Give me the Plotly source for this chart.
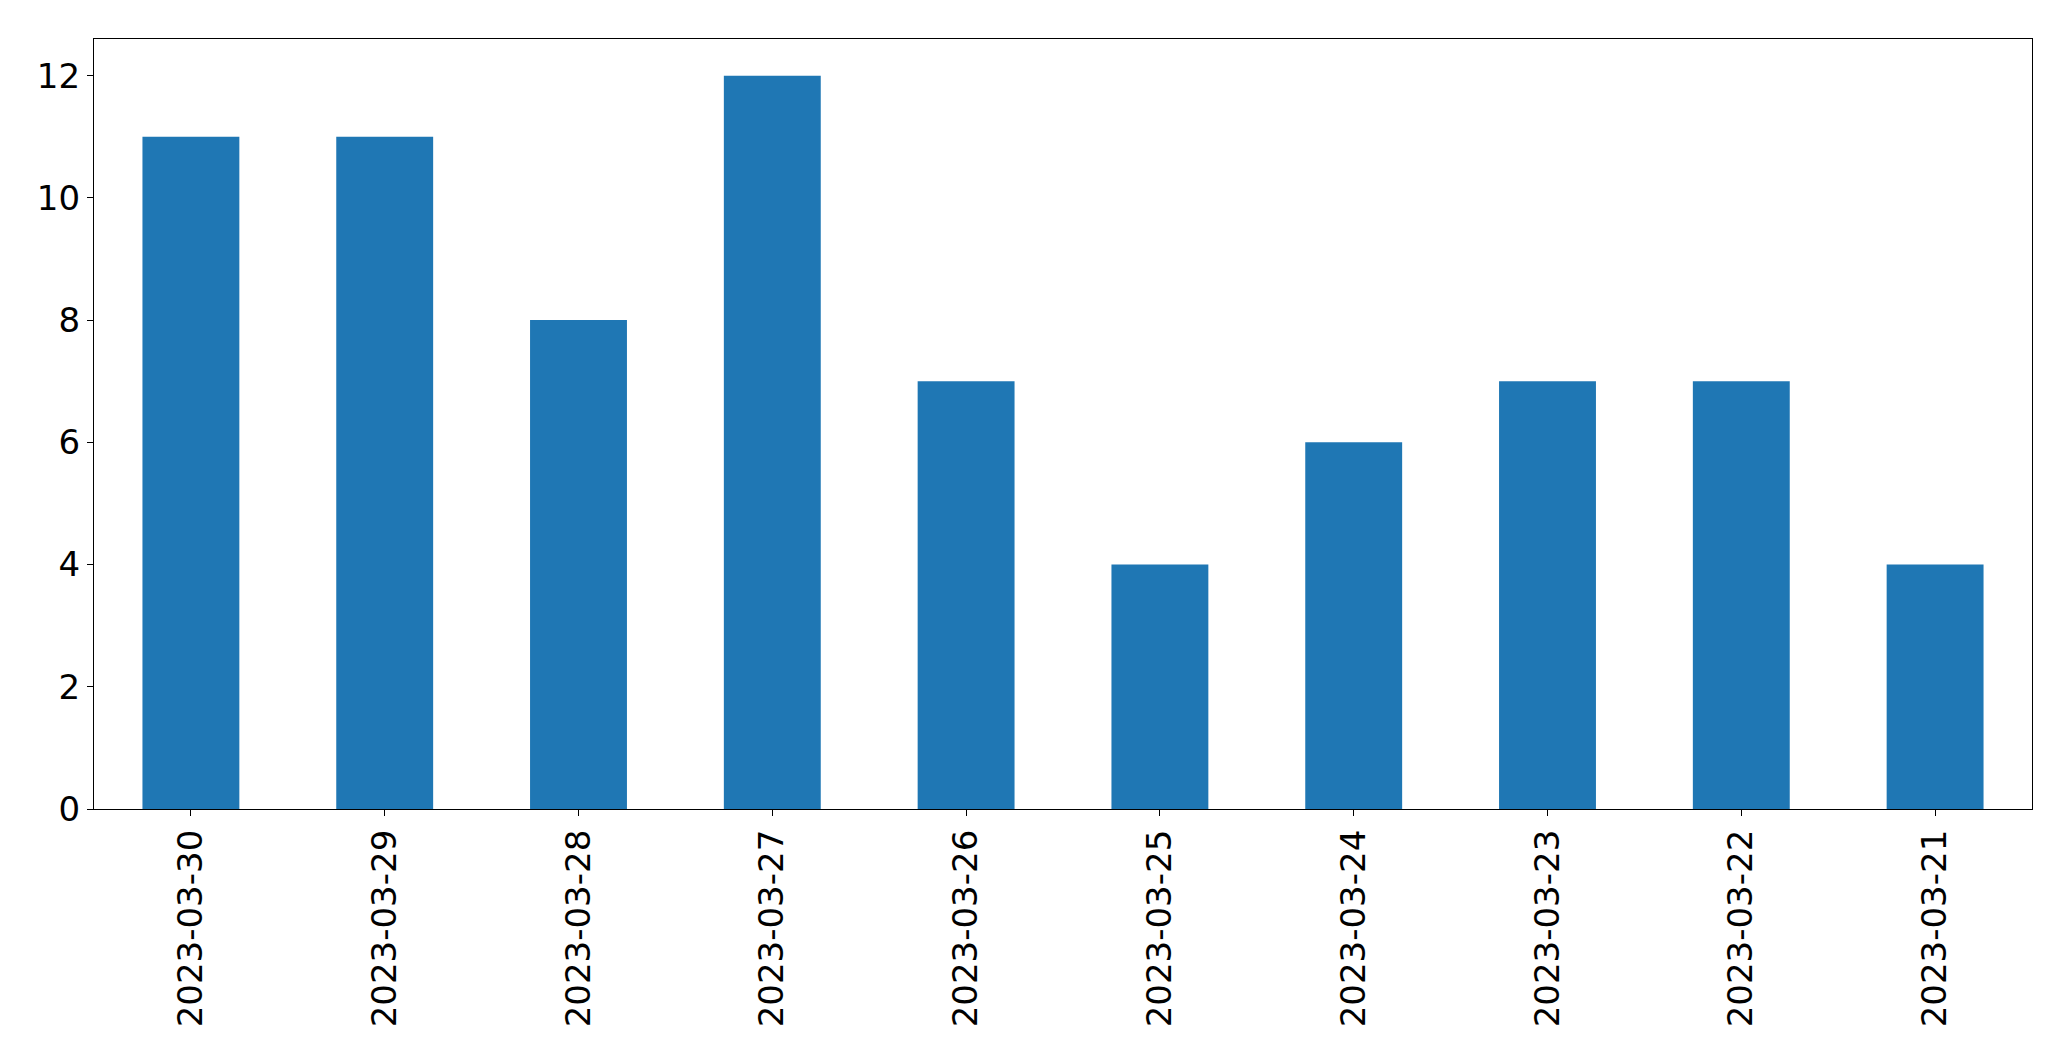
import plotly.graph_objects as go

dates = ["2023-03-30", "2023-03-29", "2023-03-28", "2023-03-27", "2023-03-26",
         "2023-03-25", "2023-03-24", "2023-03-23", "2023-03-22", "2023-03-21"]
counts = [11, 11, 8, 12, 7, 4, 6, 7, 7, 4]
y_ticks = [0, 2, 4, 6, 8, 10, 12]

fig = go.Figure(go.Bar(x=dates, y=counts, marker=dict(color="#1f77b4", line=dict(width=0))))

fig.update_layout(
    width=2071, height=1061,
    margin=dict(l=94, r=39, t=39, b=252, pad=0),
    paper_bgcolor="white", plot_bgcolor="white",
    bargap=0.5,
    showlegend=False,
    font=dict(family="DejaVu Sans", size=34, color="black"),
)
fig.update_xaxes(
    type="category", range=[-0.5, 9.5], tickangle=-90,
    showline=True, linecolor="black", linewidth=1.3, mirror=True,
    ticks="outside", ticklen=6, tickcolor="black", showgrid=False,
)
fig.update_yaxes(
    range=[0, 12.6], tickvals=y_ticks, ticktext=[str(v) for v in y_ticks],
    showline=True, linecolor="black", linewidth=1.3, mirror=True,
    ticks="outside", ticklen=6, tickcolor="black", showgrid=False, zeroline=False,
)
fig.write_html("out.html")
